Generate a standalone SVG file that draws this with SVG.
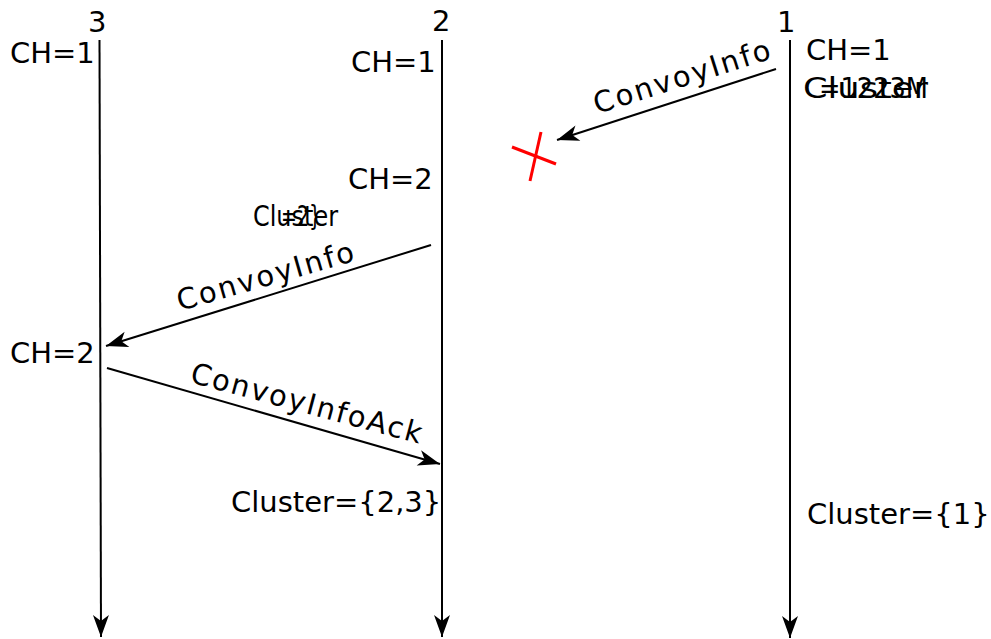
<svg xmlns="http://www.w3.org/2000/svg" width="991" height="639" viewBox="0 0 991 639">
<style>
text{font-family:"DejaVu Sans","Liberation Sans",sans-serif;font-size:29px;fill:#000}
.line{stroke:#000;stroke-width:2;fill:none}
.msg{stroke:#000;stroke-width:2;fill:none;marker-end:url(#ah)}
.x{stroke:#ff0000;stroke-width:3;fill:none}
</style>
<defs>
<marker id="ah" viewBox="-24 -10 26 20" refX="0" refY="0" markerWidth="26" markerHeight="20" orient="auto" markerUnits="userSpaceOnUse">
<path d="M0,0 L-22,-8 L-16,0 L-22,8 Z" fill="#000"/>
</marker>
</defs>
<rect width="991" height="639" fill="#fff"/>
<g id="node3">
<text x="88" y="32">3</text>
<line class="msg" x1="99.5" y1="40" x2="101" y2="637"/>
<text x="10" y="63">CH=1</text>
<text x="10" y="363">CH=2</text>
</g>
<g id="node2">
<text x="432" y="31">2</text>
<line class="msg" x1="442" y1="40" x2="442" y2="637"/>
<text x="351" y="72">CH=1</text>
<text x="348" y="189">CH=2</text>
<text x="253" y="226" textLength="85" lengthAdjust="spacingAndGlyphs">Cluster</text>
<text x="281" y="226" textLength="40" lengthAdjust="spacingAndGlyphs">=2}</text>
<text x="231" y="512">Cluster={2,3}</text>
</g>
<g id="node1">
<text x="777" y="32">1</text>
<line class="msg" x1="790" y1="40" x2="790" y2="638"/>
<text x="806" y="60">CH=1</text>
<text x="803" y="98" textLength="125" lengthAdjust="spacingAndGlyphs">Cluster</text>
<text x="819" y="98" textLength="109" lengthAdjust="spacingAndGlyphs">=1223M</text>
<text x="807" y="524">Cluster={1}</text>
</g>
<g id="lost">
<line class="x" x1="512" y1="147" x2="556" y2="164"/>
<line class="x" x1="541" y1="132" x2="530" y2="181"/>
</g>
<g id="connectors">
<line class="msg" x1="776" y1="69" x2="557" y2="140"/>
<text transform="translate(597,114) rotate(-17.6)" textLength="184" lengthAdjust="spacing">ConvoyInfo</text>
<line class="msg" x1="431" y1="245" x2="106" y2="346"/>
<text transform="translate(180,311) rotate(-16)" textLength="183" lengthAdjust="spacing">ConvoyInfo</text>
<line class="msg" x1="107" y1="368" x2="440" y2="464"/>
<text transform="translate(189,382) rotate(15)" textLength="238" lengthAdjust="spacing">ConvoyInfoAck</text>
</g>
</svg>
